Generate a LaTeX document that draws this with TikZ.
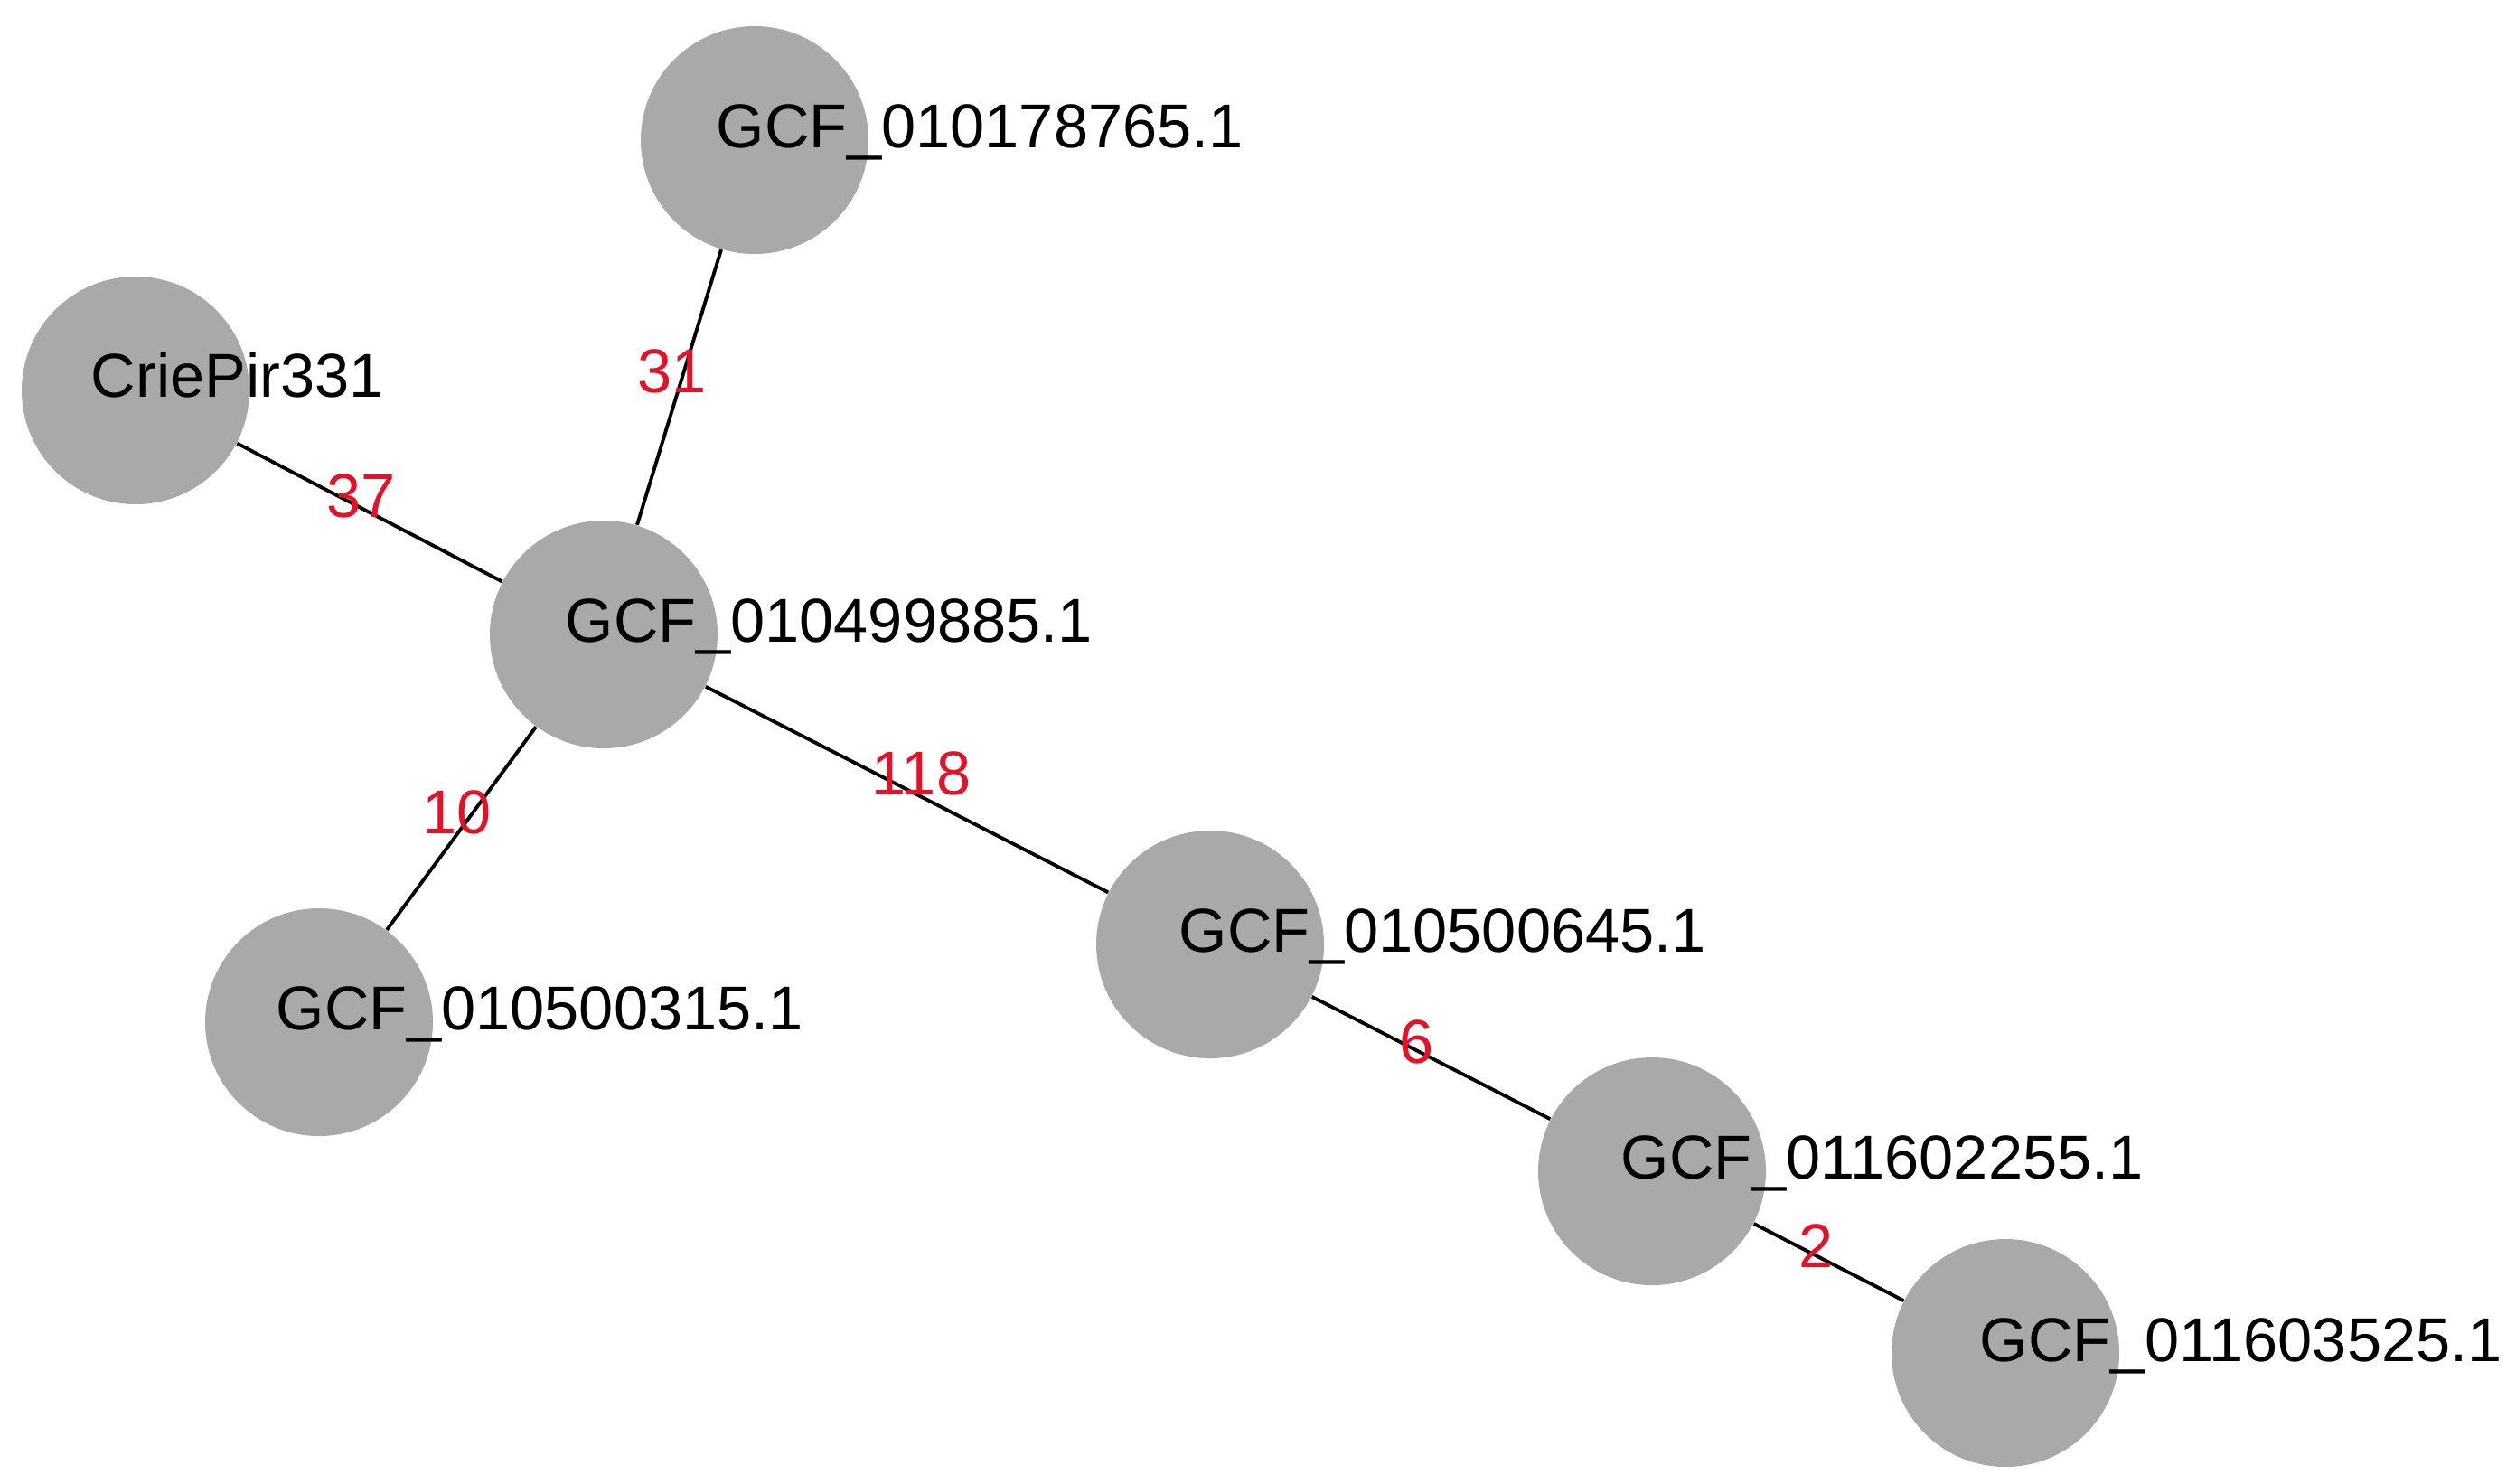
\documentclass[tikz,border=0pt]{standalone}
\usepackage{fontspec}
\setmainfont{Liberation Sans}

\definecolor{nodegray}{RGB}{169,169,169}
\definecolor{wtred}{RGB}{228,18,40}

\begin{document}
\begin{tikzpicture}[
  vtx/.style={circle, fill=nodegray, minimum size=2.52cm, inner sep=0pt},
  vlabel/.style={anchor=base west, inner sep=0pt, font=\fontsize{19.5}{20}\selectfont},
  wt/.style={text=wtred, inner sep=0pt, yshift=0.18cm, font=\fontsize{19.5}{20}\selectfont},
  link/.style={line width=1.1pt}
]

   \useasboundingbox (0,0) rectangle (27.84,-16.41);

   % vertices
   \node[vtx] (g178765) at (8.35,-1.55) {};
   \node[vtx] (crie331) at (1.50,-4.32) {};
   \node[vtx] (g499885) at (6.68,-7.02) {};
   \node[vtx] (g500315) at (3.53,-11.31) {};
   \node[vtx] (g500645) at (13.39,-10.45) {};
   \node[vtx] (g602255) at (18.28,-12.96) {};
   \node[vtx] (g603525) at (22.19,-14.97) {};

   % edges with weights
   \draw[link] (g499885) -- node[wt, xshift=-0.08cm] (w31) {31} (g178765);
   \draw[link] (crie331) -- node[wt, xshift=-0.09cm] (w37) {37} (g499885);
   \draw[link] (g499885) -- node[wt, xshift=-0.05cm] (w10) {10} (g500315);
   \draw[link] (g499885) -- node[wt, xshift=0.16cm] (w118) {118} (g500645);
   \draw[link] (g500645) -- node[wt, xshift=-0.16cm] (w6) {6} (g602255);
   \draw[link] (g602255) -- node[wt, xshift=-0.14cm] (w2) {2} (g603525);

   % names
   \node[vlabel] (l178765) at ([shift={(-0.43,-0.08)}]g178765.center) {GCF\_010178765.1};
   \node[vlabel] (lcrie) at ([shift={(-0.50,-0.07)}]crie331.center) {CriePir331};
   \node[vlabel] (l499885) at ([shift={(-0.43,-0.08)}]g499885.center) {GCF\_010499885.1};
   \node[vlabel] (l500315) at ([shift={(-0.48,-0.08)}]g500315.center) {GCF\_010500315.1};
   \node[vlabel] (l500645) at ([shift={(-0.35,-0.08)}]g500645.center) {GCF\_010500645.1};
   \node[vlabel] (l602255) at ([shift={(-0.35,-0.08)}]g602255.center) {GCF\_011602255.1};
   \node[vlabel] (l603525) at ([shift={(-0.29,-0.09)}]g603525.center) {GCF\_011603525.1};

\end{tikzpicture}
\end{document}
